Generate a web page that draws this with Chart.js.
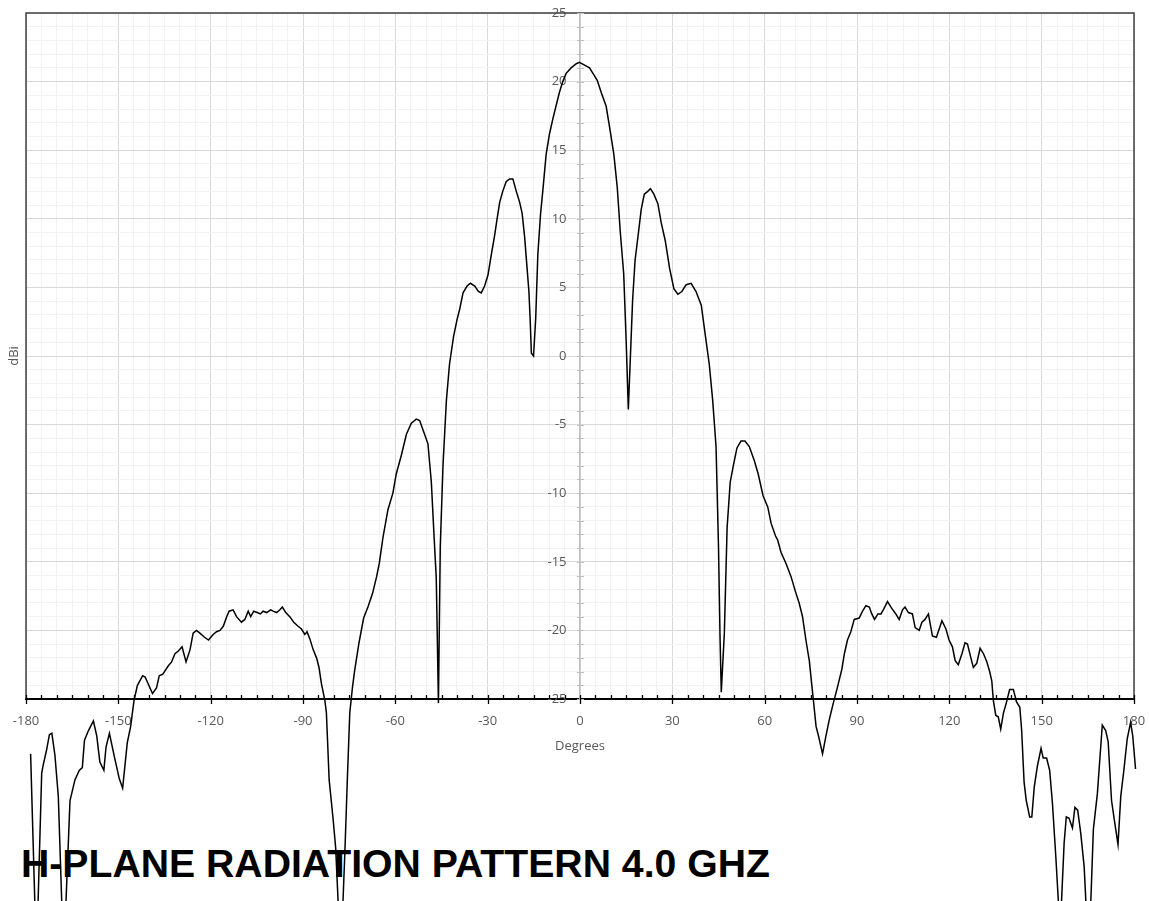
<!DOCTYPE html>
<html>
<head>
<meta charset="utf-8">
<title>H-Plane Radiation Pattern 4.0 GHz</title>
<script src="https://cdn.jsdelivr.net/npm/chart.js@4.4.1/dist/chart.umd.min.js"></script>
<style>
  html, body { margin: 0; padding: 0; background: #fff; }
  #wrap { position: relative; width: 1149px; height: 901px; overflow: hidden; }
  #patternChart { position: absolute; left: 0; top: 0; z-index: 2; }
  #chartTitle {
    position: absolute; left: 21px; top: 843.8px; z-index: 1;
    font: bold 39.2px "Liberation Sans", Arial, sans-serif;
    line-height: 1; color: #000; white-space: nowrap;
  }
</style>
</head>
<body>
<div id="wrap">
  <div id="chartTitle">H-PLANE RADIATION PATTERN 4.0 GHZ</div>
  <canvas id="patternChart" width="1149" height="901"></canvas>
</div>
<script>
// H-plane cut at 4.0 GHz: measured gain (dBi) against azimuth (degrees)
const angleDeg = [
  -178.5, -176.6, -174.9, -174.4, -173.3, -172.4, -171.6, -170.6, -169.5, -168.4,
  -167.7, -167.0, -165.7, -164.1, -162.7, -161.7, -161.0, -159.7, -158.1, -157.0,
  -156.0, -154.7, -154.0, -152.9, -151.1, -149.7, -148.6, -147.1, -146.0, -144.9,
  -143.8, -142.1, -141.3, -138.9, -137.6, -136.7, -135.6, -133.8, -132.7, -131.6,
  -130.5, -129.3, -128.0, -126.7, -125.7, -124.6, -123.5, -122.0, -120.7, -119.2,
  -118.1, -117.0, -115.9, -114.8, -114.0, -112.7, -111.6, -110.0, -108.9, -107.8,
  -107.0, -106.0, -104.9, -103.8, -103.0, -101.8, -100.5, -99.7, -98.6, -97.5,
  -96.7, -95.6, -94.3, -93.0, -91.6, -90.5, -89.4, -88.7, -87.8, -86.7,
  -85.6, -84.8, -84.0, -82.9, -82.4, -81.5, -80.2, -79.4, -78.6, -77.9,
  -77.0, -76.4, -75.6, -74.8, -73.9, -73.2, -71.8, -70.3, -68.9, -67.4,
  -66.1, -65.2, -64.0, -62.4, -60.8, -59.7, -58.0, -56.4, -54.8, -53.2,
  -52.1, -50.5, -49.4, -48.3, -47.4, -46.7, -46.0, -45.4, -44.5, -43.4,
  -42.4, -41.1, -39.9, -39.1, -38.0, -36.7, -35.6, -34.2, -33.0, -32.1,
  -31.0, -29.9, -28.8, -27.8, -27.0, -26.1, -25.1, -24.0, -22.9, -21.8,
  -20.7, -19.6, -18.8, -18.0, -17.3, -16.6, -16.2, -15.8, -15.1, -14.4,
  -13.7, -12.8, -12.1, -11.0, -9.9, -8.8, -7.7, -6.7, -5.6, -4.5,
  -2.9, -1.2, -0.2, 1.5, 3.1, 4.2, 5.6, 6.9, 8.5, 9.6,
  11.0, 12.1, 13.1, 14.2, 15.0, 15.7, 16.4, 17.1, 17.9, 19.0,
  19.9, 20.9, 22.0, 22.9, 24.0, 25.3, 26.4, 27.7, 29.1, 30.5,
  31.8, 33.1, 34.5, 36.1, 37.7, 39.4, 40.6, 42.0, 43.1, 44.2,
  45.0, 45.5, 45.9, 46.9, 47.8, 48.8, 49.9, 51.0, 52.3, 53.6,
  55.0, 56.6, 57.9, 59.5, 61.0, 62.1, 63.5, 64.2, 65.3, 66.9,
  68.6, 69.9, 71.2, 72.3, 73.4, 74.5, 75.6, 76.7, 77.5, 78.8,
  79.9, 81.0, 82.3, 83.7, 85.1, 85.9, 86.9, 88.0, 89.1, 90.7,
  91.8, 92.9, 94.0, 94.8, 95.7, 96.8, 97.8, 98.8, 99.9, 101.3,
  102.6, 103.7, 104.8, 105.6, 106.7, 108.0, 108.9, 110.2, 111.1, 112.1,
  113.2, 114.5, 115.8, 117.6, 118.9, 119.9, 121.0, 121.9, 122.9, 124.1,
  125.1, 125.9, 127.0, 127.8, 128.9, 130.0, 131.1, 132.2, 133.1, 133.8,
  134.3, 135.1, 135.9, 136.7, 137.6, 138.5, 139.6, 140.8, 141.8, 142.9,
  143.5, 144.3, 145.0, 146.1, 146.8, 147.6, 148.6, 149.8, 150.5, 151.6,
  152.6, 153.5, 154.6, 156.0, 157.3, 158.0, 158.9, 160.0, 160.8, 161.7,
  162.7, 163.8, 165.3, 166.8, 168.1, 168.8, 169.7, 170.8, 171.6, 172.7,
  173.8, 174.8, 175.7, 176.7, 177.8, 178.9, 179.6, 180.5
];

const gainDbi = [
  -29.0, -44.0, -30.4, -29.8, -28.7, -27.6, -27.5, -29.1, -32.1, -39.7,
  -45.0, -39.7, -32.4, -30.9, -30.2, -30.0, -28.0, -27.3, -26.6, -27.7,
  -29.6, -30.2, -28.5, -27.5, -29.4, -30.8, -31.5, -28.2, -27.0, -25.1,
  -24.0, -23.3, -23.4, -24.6, -24.2, -23.3, -23.2, -22.6, -22.3, -21.7,
  -21.5, -21.2, -22.3, -21.4, -20.2, -20.0, -20.2, -20.5, -20.7, -20.3,
  -20.1, -20.0, -19.7, -19.0, -18.6, -18.5, -19.0, -19.4, -19.2, -18.6,
  -19.0, -18.6, -18.7, -18.8, -18.6, -18.7, -18.5, -18.6, -18.7, -18.5,
  -18.3, -18.7, -19.0, -19.4, -19.7, -19.9, -20.3, -20.1, -20.6, -21.4,
  -22.0, -22.7, -23.9, -25.1, -26.0, -30.9, -33.8, -35.8, -39.7, -43.5,
  -39.7, -36.2, -30.9, -26.0, -24.1, -22.9, -20.9, -19.1, -18.3, -17.3,
  -16.1, -15.1, -13.2, -11.2, -10.0, -8.6, -7.2, -5.7, -4.9, -4.6,
  -4.7, -5.7, -6.4, -9.2, -13.2, -16.2, -25.3, -13.9, -7.9, -3.2,
  -0.6, 1.4, 2.7, 3.4, 4.6, 5.1, 5.3, 5.1, 4.7, 4.6,
  5.1, 5.9, 7.4, 8.7, 9.9, 11.2, 12.0, 12.7, 12.9, 12.9,
  12.0, 11.2, 10.4, 8.7, 6.7, 4.7, 2.7, 0.2, 0.0, 2.7,
  7.4, 10.4, 12.0, 14.7, 16.2, 17.3, 18.3, 19.2, 20.0, 20.6,
  21.0, 21.3, 21.4, 21.2, 21.0, 20.6, 20.1, 19.2, 18.2, 16.7,
  14.7, 12.3, 9.0, 6.0, 1.1, -3.9, 0.1, 4.1, 7.0, 9.0,
  10.7, 11.8, 12.0, 12.2, 11.8, 11.1, 9.7, 8.4, 6.4, 4.9,
  4.5, 4.7, 5.2, 5.3, 4.7, 3.7, 1.7, -0.6, -3.2, -6.6,
  -13.9, -20.5, -24.5, -20.2, -12.5, -9.2, -7.9, -6.7, -6.2, -6.2,
  -6.6, -7.6, -8.6, -10.2, -11.0, -12.2, -13.1, -13.4, -14.3, -15.1,
  -16.1, -17.1, -18.0, -19.0, -20.7, -22.2, -24.6, -27.0, -27.7, -29.0,
  -27.7, -26.5, -25.3, -24.1, -22.8, -21.7, -20.7, -20.1, -19.2, -19.1,
  -18.6, -18.2, -18.3, -18.8, -19.2, -18.8, -18.8, -18.4, -17.9, -18.4,
  -18.8, -19.2, -18.5, -18.3, -18.7, -18.8, -19.8, -20.0, -19.4, -19.2,
  -18.8, -20.4, -20.5, -19.3, -19.9, -20.7, -21.2, -22.2, -22.5, -21.7,
  -20.9, -21.0, -22.0, -22.7, -22.4, -21.3, -21.7, -22.3, -23.0, -23.7,
  -25.1, -26.2, -26.3, -27.2, -26.0, -25.3, -24.3, -24.3, -25.2, -25.6,
  -27.3, -31.1, -32.4, -33.6, -33.6, -31.4, -29.9, -28.6, -29.3, -29.3,
  -30.2, -32.6, -36.5, -42.0, -35.5, -33.6, -33.7, -34.4, -32.9, -33.1,
  -34.8, -37.2, -44.0, -34.5, -31.9, -29.7, -26.9, -27.3, -28.1, -32.4,
  -34.1, -35.6, -32.1, -30.2, -27.9, -26.7, -27.7, -30.1
];

// labelled ticks; the grid in between is drawn every 5 deg / 1 dB
const xMajorTicks = [-180, -150, -120, -90, -60, -30, 0, 30, 60, 90, 120, 150, 180];
const yMajorTicks = [-25, -20, -15, -10, -5, 0, 5, 10, 15, 20, 25];

const MAJOR_GRID = '#d9d9d9';
const MINOR_GRID = '#f2f2f2';
const LABEL_COLOR = '#595959';
const labelFont = { family: '"Open Sans", sans-serif', size: 13 };

const points = angleDeg.map((a, i) => ({ x: a, y: gainDbi[i] }));

// frame round the plot plus the small tick marks on both axes
const axisMarks = {
  id: 'axisMarks',
  beforeDatasetsDraw(chart) {
    const { ctx, chartArea: area, scales } = chart;
    const xs = scales.x;
    const ys = scales.y;
    const zeroX = xs.getPixelForValue(0);

    ctx.save();
    ctx.strokeStyle = '#404040';
    ctx.lineWidth = 1.5;
    ctx.beginPath();
    ctx.moveTo(area.left, area.bottom);
    ctx.lineTo(area.left, area.top);
    ctx.lineTo(area.right, area.top);
    ctx.lineTo(area.right, area.bottom);
    ctx.stroke();

    // grey ticks across the centre axis, one per dB
    ctx.strokeStyle = '#bfbfbf';
    ctx.lineWidth = 1;
    ctx.beginPath();
    ys.ticks.forEach(function(t) {
      const y = Math.round(ys.getPixelForValue(t.value)) + 0.5;
      ctx.moveTo(zeroX - 3, y);
      ctx.lineTo(zeroX + 4, y);
    });
    ctx.stroke();

    // bottom axis: major ticks cross the line, minor ones point inward
    ctx.strokeStyle = '#000';
    ctx.lineWidth = 1.3;
    ctx.beginPath();
    xs.ticks.forEach(function(t) {
      const x = Math.round(xs.getPixelForValue(t.value)) + 0.5;
      const major = xMajorTicks.includes(t.value);
      ctx.moveTo(x, area.bottom - 4);
      ctx.lineTo(x, area.bottom + (major ? 5 : 0));
    });
    ctx.stroke();
    ctx.restore();
  }
};

new Chart(document.getElementById('patternChart'), {
  type: 'line',
  data: {
    datasets: [{
      label: 'Gain',
      data: points,
      borderColor: '#000',
      borderWidth: 1.5,
      pointRadius: 0,
      tension: 0,
      fill: false,
      clip: false
    }]
  },
  options: {
    responsive: false,
    animation: false,
    devicePixelRatio: 1,
    layout: { padding: { top: 13, right: 15, bottom: 142.8, left: 0 } },
    plugins: {
      legend: { display: false },
      tooltip: { enabled: false }
    },
    scales: {
      x: {
        type: 'linear',
        min: -180,
        max: 180,
        ticks: {
          stepSize: 5,
          autoSkip: false,
          minRotation: 0,
          maxRotation: 0,
          padding: 0,
          color: LABEL_COLOR,
          font: labelFont,
          callback: function(v) { return xMajorTicks.includes(v) ? String(v) : ''; }
        },
        grid: {
          color: function(c) { return xMajorTicks.includes(c.tick.value) ? MAJOR_GRID : MINOR_GRID; },
          lineWidth: 1,
          drawTicks: true,
          tickLength: 14,
          tickColor: 'rgba(0,0,0,0)'
        },
        border: { color: '#000', width: 2 },
        title: {
          display: true,
          text: 'Degrees',
          color: LABEL_COLOR,
          font: labelFont,
          padding: { top: 10, bottom: 4 }
        }
      },
      y: {
        min: -25,
        max: 25,
        ticks: { stepSize: 1, display: false },
        grid: {
          color: function(c) { return yMajorTicks.includes(c.tick.value) ? MAJOR_GRID : MINOR_GRID; },
          lineWidth: 1,
          drawTicks: false
        },
        border: { display: false },
        title: {
          display: true,
          text: 'dBi',
          color: LABEL_COLOR,
          font: labelFont,
          padding: { top: 6, bottom: 4.4 }
        }
      },
      y2: {
        position: { x: 0 },
        min: -25,
        max: 25,
        ticks: {
          stepSize: 5,
          color: LABEL_COLOR,
          font: labelFont,
          callback: function(v) { return v + '    '; }
        },
        grid: { drawOnChartArea: false, drawTicks: false },
        border: { color: '#bfbfbf', width: 1.5 }
      }
    }
  },
  plugins: [axisMarks]
});
</script>
</body>
</html>
